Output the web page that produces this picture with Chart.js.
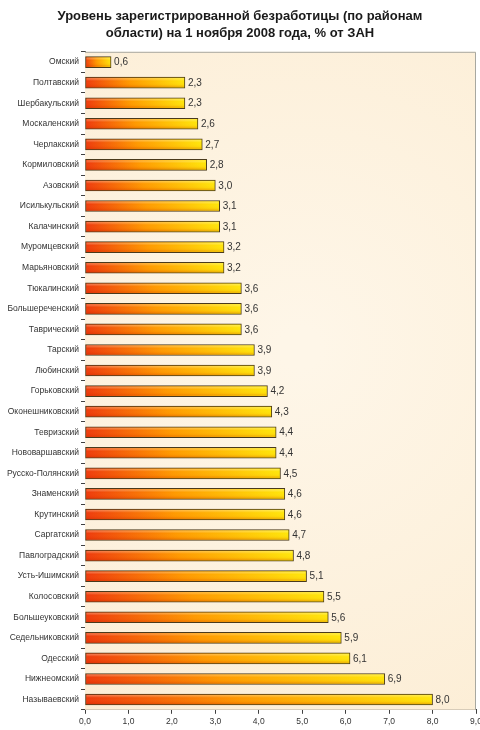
<!DOCTYPE html>
<html lang="ru">
<head>
<meta charset="utf-8">
<title>Уровень зарегистрированной безработицы</title>
<script src="https://cdn.jsdelivr.net/npm/chart.js@4.4.1/dist/chart.umd.min.js"></script>
<style>
  html, body { margin: 0; padding: 0; background: #ffffff; }
  #wrap { width: 480px; height: 730px; }
</style>
</head>
<body>
<div id="wrap"><canvas id="unemploymentChart"></canvas></div>
<script>
// Data
const districts = [
  "Омский", "Полтавский", "Шербакульский", "Москаленский", "Черлакский",
  "Кормиловский", "Азовский", "Исилькульский", "Калачинский", "Муромцевский",
  "Марьяновский", "Тюкалинский", "Большереченский", "Таврический", "Тарский",
  "Любинский", "Горьковский", "Оконешниковский", "Тевризский", "Нововаршавский",
  "Русско-Полянский", "Знаменский", "Крутинский", "Саргатский", "Павлоградский",
  "Усть-Ишимский", "Колосовский", "Большеуковский", "Седельниковский", "Одесский",
  "Нижнеомский", "Называевский"
];
const rates = [
  0.6, 2.3, 2.3, 2.6, 2.7,
  2.8, 3.0, 3.1, 3.1, 3.2,
  3.2, 3.6, 3.6, 3.6, 3.9,
  3.9, 4.2, 4.3, 4.4, 4.4,
  4.5, 4.6, 4.6, 4.7, 4.8,
  5.1, 5.5, 5.6, 5.9, 6.1,
  6.9, 8.0
];
const xTicks = [0, 1, 2, 3, 4, 5, 6, 7, 8, 9];
const titleLines = [
  "Уровень зарегистрированной безработицы (по районам",
  "области) на 1 ноября 2008 года, % от ЗАН"
];

const FONT = "'Liberation Sans', Arial, sans-serif";

function fmt(v) {
  return Number(v).toFixed(1).replace(".", ",");
}

// ==================== PLUGINS ====================

// cream "paper" background of the plot area
const plotBackground = {
  id: "plotBackground",
  beforeDatasetsDraw(chart) {
    const { ctx, chartArea: a } = chart;
    ctx.save();
    const g = ctx.createRadialGradient(a.left + a.width * 0.55, a.top + a.height * 0.45, 20,
      a.left + a.width * 0.55, a.top + a.height * 0.45, a.height * 0.7);
    g.addColorStop(0, "#fef6e8");
    g.addColorStop(1, "#fcedd4");
    ctx.fillStyle = g;
    ctx.fillRect(a.left, a.top, a.width, a.height);
    ctx.restore();
  },
  afterDraw(chart) {
    const { ctx, chartArea: a } = chart;
    ctx.save();
    ctx.strokeStyle = "#a8a8a0";
    ctx.lineWidth = 1;
    ctx.beginPath();
    ctx.moveTo(a.left, a.top + 0.5);
    ctx.lineTo(a.right - 0.5, a.top + 0.5);
    ctx.lineTo(a.right - 0.5, a.bottom);
    ctx.stroke();
    ctx.restore();
  }
};

// vertical shading on bars + value labels
const barDecor = {
  id: "barDecor",
  afterDatasetsDraw(chart) {
    const { ctx } = chart;
    const meta = chart.getDatasetMeta(0);
    ctx.save();
    meta.data.forEach(function (bar, i) {
      const top = bar.y - bar.height / 2;
      const left = Math.min(bar.base, bar.x);
      const w = Math.abs(bar.x - bar.base);
      const g = ctx.createLinearGradient(0, top, 0, top + bar.height);
      g.addColorStop(0, "rgba(255,255,210,0.45)");
      g.addColorStop(0.35, "rgba(255,255,255,0)");
      g.addColorStop(0.7, "rgba(200,40,0,0.05)");
      g.addColorStop(1, "rgba(170,20,0,0.35)");
      ctx.fillStyle = g;
      ctx.fillRect(left + 1, top + 1, w - 2, bar.height - 2);

      ctx.fillStyle = "#333333";
      ctx.font = "10px " + FONT;
      ctx.textAlign = "left";
      ctx.textBaseline = "middle";
      ctx.fillText(fmt(rates[i]), bar.x + 3, bar.y + 0.5);
    });
    ctx.restore();
  }
};

// ==================== CHART ====================

function initUnemploymentChart() {
  const ctx = document.getElementById("unemploymentChart").getContext("2d");

  new Chart(ctx, {
    type: "bar",
    data: {
      labels: districts,
      datasets: [{
        data: rates,
        backgroundColor: function (context) {
          const chart = context.chart;
          if (!chart.chartArea) return "#ff9900";
          const x0 = chart.scales.x.getPixelForValue(0);
          const x1 = chart.scales.x.getPixelForValue(context.raw);
          const g = chart.ctx.createLinearGradient(x0, 0, x1, 0);
          g.addColorStop(0, "#ee3a0c");
          g.addColorStop(0.45, "#ff9a00");
          g.addColorStop(1, "#ffe60a");
          return g;
        },
        borderColor: "#4a3a1c",
        borderWidth: 1,
        borderSkipped: false,
        barThickness: 11
      }]
    },
    options: {
      indexAxis: "y",
      responsive: true,
      maintainAspectRatio: false,
      animation: false,
      layout: { padding: { left: 0, right: 0, top: 0, bottom: 0 } },
      plugins: {
        legend: { display: false },
        tooltip: { enabled: false },
        title: {
          display: true,
          text: titleLines,
          color: "#1a1a1a",
          font: { family: FONT, size: 13, weight: "bold", lineHeight: 1.3 },
          padding: { top: 8, bottom: 10 }
        }
      },
      scales: {
        x: {
          min: 0,
          max: 9,
          afterBuildTicks: function (scale) {
            scale.ticks = xTicks.map(v => ({ value: v }));
          },
          afterFit: function (scale) {
            // let the last label run up to the edge, as in the original
            scale.paddingRight = 4;
          },
          ticks: {
            color: "#333333",
            font: { family: FONT, size: 8.5 },
            padding: 3,
            maxRotation: 0,
            callback: value => fmt(value)
          },
          grid: {
            drawOnChartArea: false,
            drawTicks: true,
            tickLength: 4,
            color: "#404040"
          },
          border: { display: true, color: "#404040" }
        },
        y: {
          afterFit: function (scale) {
            scale.width = 85;
          },
          ticks: {
            color: "#333333",
            font: { family: FONT, size: 8.5 },
            padding: 2,
            autoSkip: false
          },
          grid: {
            drawOnChartArea: false,
            drawTicks: true,
            tickLength: 4,
            offset: true,
            color: "#404040"
          },
          border: { display: true, color: "#404040" }
        }
      }
    },
    plugins: [plotBackground, barDecor]
  });
}

document.addEventListener("DOMContentLoaded", initUnemploymentChart);
</script>
</body>
</html>
